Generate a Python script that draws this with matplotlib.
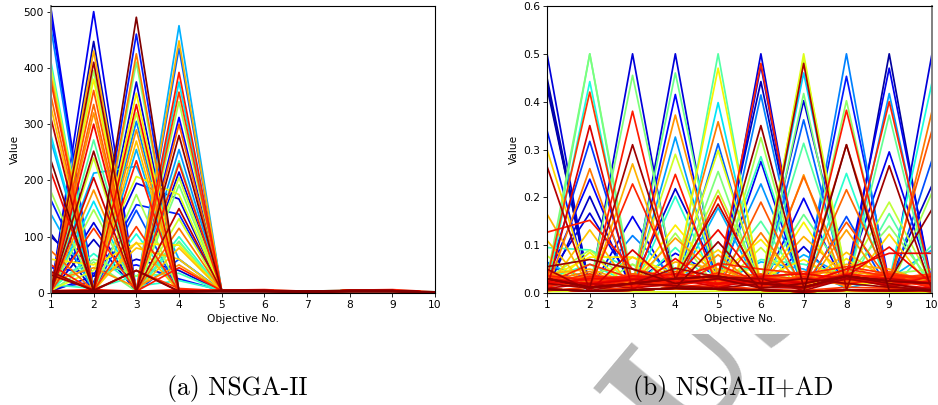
import matplotlib
matplotlib.use('Agg')
import matplotlib.pyplot as plt

objectives = [1, 2, 3, 4, 5, 6, 7, 8, 9, 10]

# ---- NSGA-II : peak height on each objective, and where the line sits in the jet map
a_peaks = {
    1: [505, 490, 470, 410, 400, 385, 375, 350, 330, 310, 280, 270, 235, 215, 180, 165, 140, 105, 75, 50, 38],
    2: [500, 447, 430, 410, 395, 380, 360, 335, 320, 300, 272, 252, 240, 205, 183, 163, 148, 125, 115, 95, 55],
    3: [490, 460, 425, 410, 375, 355, 335, 320, 305, 290, 270, 255, 235, 175, 147, 118, 105, 90, 40],
    4: [475, 448, 435, 392, 375, 357, 340, 312, 300, 280, 255, 235, 230, 215, 205, 192, 150, 132, 115, 100, 92, 80, 60, 45],
}
a_colors = {
    1: [.1, .12, .25, .4, .6, .75, .85, .8, .7, .95, .35, .3, 1.0, .9, .55, .15, .3, .05, .8, .88, .97],
    2: [.1, .05, .72, .97, .55, .65, .82, .8, .75, .9, .45, .98, .6, .93, .75, .35, .55, .08, .85, .06, .5],
    3: [1.0, .15, .78, .5, .08, .65, .9, .6, .25, .75, .7, .3, .88, .55, .2, .85, .38, .7, .97],
    4: [.3, .72, .22, .88, .35, .85, .55, .12, .8, .99, .27, .42, .87, .08, .6, .5, .95, .6, .78, .4, .45, .7, .2, .88],
}
a_base = [3, 4, 3, 3, 4, 4, 3, 4, 4, 1]

# lines that do not come back to the floor between peaks
a_other = [
    [5, 213, 225, 60, 4, 4, 3, 4, 4, 1],
    [5, 40, 207, 175, 4, 4, 3, 4, 4, 1],
    [3, 30, 195, 167, 4, 3, 3, 3, 4, 1],
    [8, 20, 157, 140, 3, 3, 2, 3, 3, 1],
    [100, 30, 60, 40, 3, 3, 2, 3, 3, 1],
    [60, 50, 88, 85, 4, 3, 3, 3, 3, 1],
    [30, 10, 80, 60, 3, 3, 3, 3, 3, 1],
    [12, 60, 30, 90, 4, 4, 3, 4, 4, 1],
    [45, 35, 50, 25, 4, 4, 3, 4, 4, 1],
    [20, 45, 10, 50, 4, 4, 2, 3, 4, 1],
    [15, 8, 30, 35, 3, 3, 2, 3, 3, 1],
    [35, 5, 40, 8, 4, 4, 3, 4, 4, 1],
    [32, 5, 40, 3, 4, 4, 3, 4, 4, 1],
    [6, 70, 12, 22, 5, 5, 3, 5, 5, 2],
    [4, 6, 3, 6, 5, 6, 3, 5, 6, 2],
    [2, 1, 2, 1, 3, 3, 2, 3, 3, 1],
    [1, 2, 1, 2, 2, 2, 1, 2, 2, 0],
]
a_other_colors = [.3, .62, .08, .16, .07, .66, .7, .5, .14, .75, .42, .85, .98, .4, .88, .95, 1.0]

# ---- NSGA-II+AD
b_peaks = {
    1: [.5, .45, .44, .43, .34, .3, .265, .165, .11, .078, .065],
    2: [.5, .5, .442, .42, .35, .317, .26, .238, .202, .167, .132, .09, .085, .06],
    3: [.5, .455, .38, .31, .27, .228, .16, .12, .09, .075, .06],
    4: [.5, .46, .415, .372, .326, .29, .248, .218, .202, .142, .125, .115, .095, .083, .072],
    5: [.5, .47, .398, .358, .312, .298, .254, .215, .203, .186, .178, .132, .107, .09, .08, .06],
    6: [.5, .48, .475, .442, .414, .35, .325, .285, .275, .228, .19, .15, .126, .112, .095],
    7: [.5, .49, .48, .46, .417, .402, .362, .313, .247, .243, .198, .164, .148, .118, .097, .08],
    8: [.5, .453, .402, .382, .31, .31, .25, .216, .16, .148, .132, .085, .072],
    9: [.5, .47, .417, .4, .372, .295, .266, .19, .166, .14, .123, .096],
    10: [.5, .44, .38, .34, .278, .225, .21, .175, .1],
}
b_colors = {
    1: [.08, .03, .05, .02, .15, .68, .95, .72, .7, .6, .2],
    2: [.45, .5, .38, .85, .92, .18, .78, .12, .06, .08, .7, .55, .65, .4],
    3: [.08, .5, .88, .97, .72, .87, .1, .25, .92, .68, .5],
    4: [.08, .48, .12, .75, .28, .6, .88, .07, .4, .66, .55, .74, .42, .1, .9],
    5: [.45, .65, .35, .78, .22, .62, .5, .58, .85, .95, .3, .9, .98, .68, .75, .88],
    6: [.08, .87, .1, .05, .25, .98, .55, .42, .1, .27, .82, .45, .78, .66, .6],
    7: [.62, .6, .96, .33, .5, .08, .22, .45, .75, .8, .1, .48, .65, .72, .08, .3],
    8: [.25, .15, .52, .88, 1.0, .85, .4, .8, .2, .82, .74, .7, .66],
    9: [.03, .1, .28, .87, .47, .1, .97, .58, .45, .52, .68, .9],
    10: [.08, .38, .78, .82, .2, .06, .55, .98, .45],
}
b_base_low = [.008, .004, .006, .01, .008, .006, .003, .006, .005, .006]
b_base_mid = [.03, .012, .02, .03, .035, .02, .012, .035, .025, .02]

b_other = [
    [.127, .152, .05, .03, .02, .02, .01, .03, .03, .02],
    [.02, .03, .03, .04, .03, .02, .02, .05, .083, .083],
    [.055, .07, .05, .02, .03, .01, .02, .035, .02, .005],
    [.05, .005, .02, .052, .033, .03, .005, .03, .015, .002],
    [.02, .06, .03, .01, .062, .05, .04, .055, .04, .01],
    [.095, .09, .05, .03, .02, .07, .06, .04, .03, .03],
    [.03, .075, .075, .04, .02, .03, .07, .02, .02, .04],
    [.04, .05, .02, .065, .05, .02, .03, .06, .05, .02],
    [.01, .04, .06, .01, .045, .05, .02, .03, .04, .05],
    [.06, .03, .02, .05, .02, .065, .05, .01, .03, .09],
    [.025, .045, .015, .03, .06, .01, .04, .045, .01, .03],
    [.035, .015, .04, .02, .03, .04, .015, .025, .045, .015],
    [.015, .03, .025, .045, .015, .03, .045, .02, .03, .04],
    [.045, .02, .035, .015, .04, .025, .03, .04, .02, .025],
    [.02, .04, .015, .03, .035, .015, .02, .05, .035, .03],
    [.03, .02, .03, .025, .02, .035, .04, .03, .015, .035],
    [.012, .035, .03, .02, .03, .025, .01, .04, .03, .012],
    [.04, .025, .012, .035, .025, .02, .035, .015, .04, .02],
    [.025, .012, .02, .04, .03, .03, .025, .035, .025, .015],
    [.018, .03, .035, .012, .02, .018, .03, .028, .038, .03],
    [.03, .018, .028, .03, .012, .03, .02, .038, .018, .01],
    [.01, .02, .01, .02, .03, .012, .01, .03, .03, .02],
    [.02, .01, .02, .015, .01, .02, .03, .02, .012, .008],
    [.005, .012, .008, .01, .015, .008, .005, .012, .01, .004],
    [.003, .004, .003, .002, .004, .002, .002, .003, .002, .001],
    [.032, .028, .022, .026, .034, .024, .016, .044, .036, .024],
    [.022, .036, .018, .034, .026, .034, .026, .034, .022, .018],
    [.038, .024, .032, .018, .038, .016, .036, .022, .032, .034],
    [.016, .022, .04, .028, .022, .028, .018, .042, .026, .022],
    [.028, .014, .026, .038, .016, .038, .028, .026, .042, .028],
    [.014, .032, .016, .022, .042, .022, .014, .032, .018, .038],
    [.036, .026, .014, .016, .028, .014, .034, .018, .034, .016],
    [.024, .016, .036, .03, .018, .032, .022, .036, .014, .026],
]
b_other_colors = [.88, .9, .98, .96, .86, .42, .66, .72, .55, .3, .78, .82, .84, .8,
                  .86, .9, .88, .76, .83, .87, .92, .94, .97, .85, .62,
                  .74, .78, .8, .82, .84, .86, .88, .9]

watermark = 'US'
captions = ['(a) NSGA-II', '(b) NSGA-II+AD']


def collect_lines(peaks, colors, bases, other, other_colors):
    lines = []
    for obj in peaks:
        for i, h in enumerate(peaks[obj]):
            vals = list(bases[i % len(bases)])
            vals[obj - 1] = h
            lines.append((colors[obj][i], vals))
    lines += list(zip(other_colors, other))
    # later solutions (the red ones) end up on top
    lines.sort(key=lambda l: l[0])
    return lines


fig = plt.figure(figsize=(9.38, 4.05), dpi=100)
jet = plt.get_cmap('jet')

# watermark is only visible under the plots
wm = fig.add_axes([0, 0, 1, 71 / 405], zorder=-1)
wm.set_xlim(0, 938)
wm.set_ylim(405, 334)
wm.axis('off')
wm.text(677, 463, watermark, fontsize=115, family='DejaVu Serif', weight='bold', color='#b9b9b9',
        rotation=50, rotation_mode='anchor', ha='left', va='baseline', clip_on=True)

ax1 = fig.add_axes([51 / 938, 112 / 405, 384 / 938, 287 / 405])
for c, vals in collect_lines(a_peaks, a_colors, [a_base], a_other, a_other_colors):
    ax1.plot(objectives, vals, color=jet(c), lw=1.25)
ax1.set_ylim(0, 510)
ax1.set_yticks([0, 100, 200, 300, 400, 500])
ax1.spines['left'].set_color('#808080')
ax1.spines['left'].set_linewidth(1.4)

ax2 = fig.add_axes([547 / 938, 112 / 405, 385 / 938, 287 / 405])
for c, vals in collect_lines(b_peaks, b_colors, [b_base_low, b_base_mid], b_other, b_other_colors):
    ax2.plot(objectives, vals, color=jet(c), lw=1.25)
ax2.set_ylim(0, 0.6)
ax2.set_yticks([0, .1, .2, .3, .4, .5, .6])
ax2.spines['right'].set_color('#808080')
ax2.spines['right'].set_linewidth(1.4)

for ax in (ax1, ax2):
    ax.set_xlim(1, 10)
    ax.set_xticks(objectives)
    ax.tick_params(labelsize=7.7, length=2.6, width=0.6, pad=2.5)
    ax.set_xlabel('Objective No.', fontsize=7.7, labelpad=3)
    ax.set_ylabel('Value', fontsize=7.7, labelpad=2.5)

fig.text(237 / 938, 10 / 405, captions[0], family='cmr10', fontsize=18.4, ha='center', va='baseline')
fig.text(733 / 938, 10 / 405, captions[1], family='cmr10', fontsize=18.4, ha='center', va='baseline')

fig.savefig('out.png', dpi=100)
